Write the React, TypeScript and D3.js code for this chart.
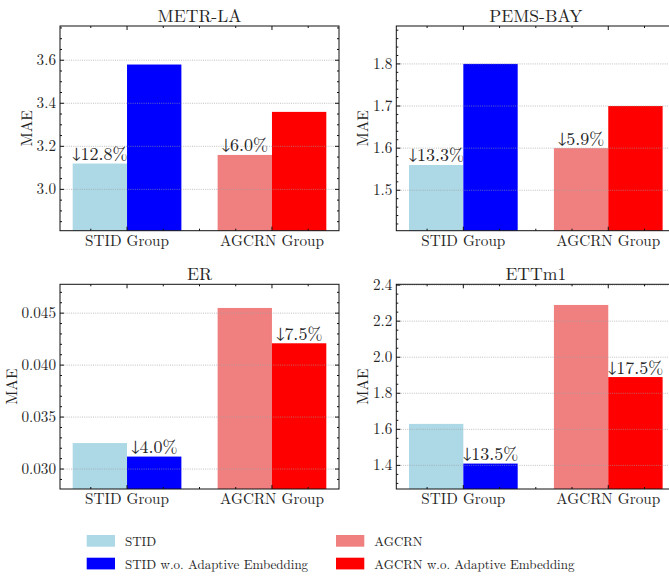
import React, { useEffect } from 'react';
import * as d3 from 'd3';

const datasets = ['METR-LA', 'PEMS-BAY', 'ER', 'ETTm1'];
const groups = ['STID Group', 'AGCRN Group'];
const stid = [3.12, 1.56, 0.0325, 1.63];
const stidNoAE = [3.58, 1.8, 0.0312, 1.41];
const agcrn = [3.16, 1.6, 0.0455, 2.29];
const agcrnNoAE = [3.36, 1.7, 0.0421, 1.89];
const stidGain = ['12.8%', '13.3%', '4.0%', '13.5%'];
const agcrnGain = ['6.0%', '5.9%', '7.5%', '17.5%'];
const yTicks = [
  [3.0, 3.2, 3.4, 3.6],
  [1.5, 1.6, 1.7, 1.8],
  [0.03, 0.035, 0.04, 0.045],
  [1.4, 1.6, 1.8, 2.0, 2.2, 2.4],
];
const yTickLabels = [
  ['3.0', '3.2', '3.4', '3.6'],
  ['1.5', '1.6', '1.7', '1.8'],
  ['0.030', '0.035', '0.040', '0.045'],
  ['1.4', '1.6', '1.8', '2.0', '2.2', '2.4'],
];
const minorStep = [0.05, 0.02, 0.001, 0.05];
const seriesNames = ['STID', 'STID w.o. Adaptive Embedding', 'AGCRN', 'AGCRN w.o. Adaptive Embedding'];
const colors = ['#ADD8E6', '#0000FF', '#F08080', '#FF0000'];

const W = 669;
const H = 578;
const FONT = '"Latin Modern Roman", "Liberation Serif", serif';
const ARROW_FONT = '"FreeSerif", "Liberation Serif", serif';
const TXT = '#262626';
const axLeft = [60, 396.3];
const axTop = [26, 284.3];
const axW = 279;
const axH = 204.7;
const barW = 0.375;
const TICK_FS = 15.2;

function measure(text: string, size: number) {
  const c = document.createElement('canvas').getContext('2d');
  if (!c) return text.length * size * 0.5;
  c.font = `${size}px ${FONT}`;
  return c.measureText(text).width;
}

function Panel({ i }: { i: number }) {
  const left = axLeft[i % 2];
  const top = axTop[Math.floor(i / 2)];
  const vals = [stid[i], stidNoAE[i], agcrn[i], agcrnNoAE[i]];
  const lo = d3.min(vals)! * 0.9;
  const hi = d3.max(vals)! * 1.05;
  const y = d3.scaleLinear().domain([lo, hi]).range([top + axH, top]);
  const pad = (1 + 2 * barW) * 0.05;
  const x = d3.scaleLinear().domain([-barW - pad, 1 + barW + pad]).range([left, left + axW]);
  const bars = [
    { x0: -barW, x1: 0, v: stid[i], c: colors[0] },
    { x0: 0, x1: barW, v: stidNoAE[i], c: colors[1] },
    { x0: 1 - barW, x1: 1, v: agcrn[i], c: colors[2] },
    { x0: 1, x1: 1 + barW, v: agcrnNoAE[i], c: colors[3] },
  ];
  const annots = [
    { b: stid[i] < stidNoAE[i] ? bars[0] : bars[1], t: stidGain[i] },
    { b: agcrn[i] < agcrnNoAE[i] ? bars[2] : bars[3], t: agcrnGain[i] },
  ];
  const step = minorStep[i];
  const minor = d3
    .range(Math.ceil(lo / step - 1e-6), Math.floor(hi / step + 1e-6) + 1)
    .map((k) => k * step)
    .filter((v) => !yTicks[i].some((t) => Math.abs(t - v) < step / 10));
  const xMinor = [-0.25, 0.25, 0.5, 0.75, 1.25];
  const xMajor = [0, 1];
  const maxLab = d3.max(yTickLabels[i], (s) => measure(s, TICK_FS))!;
  const ylabX = left - 4 - maxLab - 10;
  const yb = top + axH;
  const right = left + axW;
  const fs = { fontFamily: FONT };
  return (
    <g>
      {bars.map((b, k) => (
        <rect key={k} x={x(b.x0)} width={x(b.x1) - x(b.x0)} y={y(b.v)} height={yb - y(b.v)} fill={b.c} />
      ))}
      {yTicks[i].map((t, k) => (
        <line key={k} x1={left} x2={right} y1={y(t)} y2={y(t)} stroke="#a0a0a0" strokeWidth={0.8} strokeDasharray="1,1.2" opacity={0.8} />
      ))}
      {annots.map((a, k) => (
        <text key={k} x={(x(a.b.x0) + x(a.b.x1)) / 2} y={y(a.b.v) - 3.5} textAnchor="middle" fontSize={18} fill={TXT} style={fs}>
          <tspan style={{ fontFamily: ARROW_FONT }}>↓</tspan>
          {a.t}
        </text>
      ))}
      <rect x={left} y={top} width={axW} height={axH} fill="none" stroke="#111" strokeWidth={1} />
      {yTicks[i].map((t, k) => (
        <g key={k}>
          <line x1={left} x2={left + 4} y1={y(t)} y2={y(t)} stroke="#111" />
          <line x1={right} x2={right - 4} y1={y(t)} y2={y(t)} stroke="#111" />
          <text x={left - 4} y={y(t)} dy="0.33em" textAnchor="end" fontSize={TICK_FS} fill={TXT} style={fs}>
            {yTickLabels[i][k]}
          </text>
        </g>
      ))}
      {minor.map((t, k) => (
        <g key={k}>
          <line x1={left} x2={left + 2} y1={y(t)} y2={y(t)} stroke="#111" />
          <line x1={right} x2={right - 2} y1={y(t)} y2={y(t)} stroke="#111" />
        </g>
      ))}
      {xMajor.map((t, k) => (
        <g key={k}>
          <line x1={x(t)} x2={x(t)} y1={yb} y2={yb - 4} stroke="#111" />
          <line x1={x(t)} x2={x(t)} y1={top} y2={top + 4} stroke="#111" />
          <text x={x(t)} y={yb + 15} textAnchor="middle" fontSize={TICK_FS} fill={TXT} style={fs}>
            {groups[k]}
          </text>
        </g>
      ))}
      {xMinor.map((t, k) => (
        <g key={k}>
          <line x1={x(t)} x2={x(t)} y1={yb} y2={yb - 2} stroke="#111" />
          <line x1={x(t)} x2={x(t)} y1={top} y2={top + 2} stroke="#111" />
        </g>
      ))}
      <text x={(left + right) / 2} y={top - 4.5} textAnchor="middle" fontSize={17.6} fill={TXT} style={fs}>
        {datasets[i]}
      </text>
      <text
        transform={`translate(${ylabX},${top + axH / 2}) rotate(-90)`}
        textAnchor="middle"
        dy="0.34em"
        fontSize={15.5}
        fill={TXT}
        style={fs}
      >
        MAE
      </text>
    </g>
  );
}

const legendPos = [
  { px: 86.7, py: 535 },
  { px: 86.7, py: 557.7 },
  { px: 336, py: 535 },
  { px: 336, py: 557.7 },
];

export default function App() {
  useEffect(() => {
    document.body.style.margin = '0';
  }, []);
  return (
    <svg width={W} height={H} style={{ position: 'absolute', left: 0, top: 0, background: '#fff' }}>
      <rect width={W} height={H} fill="#fff" />
      {datasets.map((_, i) => (
        <Panel key={i} i={i} />
      ))}
      {seriesNames.map((s, k) => (
        <g key={k}>
          <rect x={legendPos[k].px} y={legendPos[k].py} width={28.3} height={11.7} fill={colors[k]} />
          <text x={legendPos[k].px + 38.3} y={legendPos[k].py + 11.2} fontSize={13} fill={TXT} style={{ fontFamily: FONT }}>
            {s}
          </text>
        </g>
      ))}
    </svg>
  );
}
